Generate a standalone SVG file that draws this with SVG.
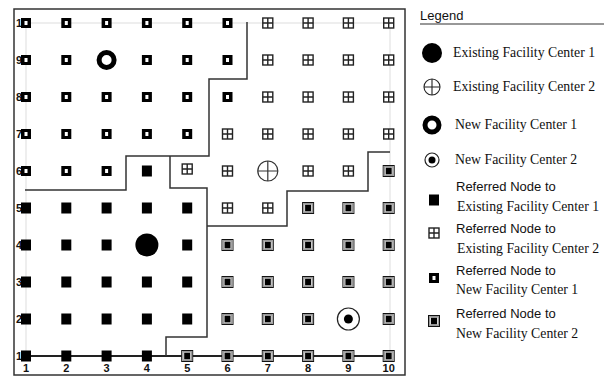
<svg xmlns="http://www.w3.org/2000/svg" xmlns:xlink="http://www.w3.org/1999/xlink" width="616" height="378" viewBox="0 0 616 378">
<style>
.ax{font-family:"Liberation Sans",Arial,sans-serif;font-size:11px;font-weight:bold;fill:#111}
.sans{font-family:"Liberation Sans",Arial,sans-serif;font-size:13px;fill:#111}
.serif{font-family:"Liberation Serif","Times New Roman",serif;font-size:13.8px;fill:#111}
.bnd{fill:none;stroke:#333;stroke-width:1.5}
.grid{stroke:#ddd;stroke-width:1;fill:none}
</style>
<defs>
<g id="s"><rect x="-5" y="-5.5" width="10" height="11" fill="#000"/></g>
<g id="nf1"><rect x="-5" y="-5" width="10" height="10" fill="#000"/><rect x="-1.5" y="-2" width="3" height="4" fill="#fff"/></g>
<g id="ef2"><rect x="-5" y="-5" width="10" height="10" fill="#fff" stroke="#222" stroke-width="1.4"/><path d="M0,-5V5M-5,0H5" stroke="#222" stroke-width="1.4"/></g>
<g id="nf2"><rect x="-5.5" y="-5.5" width="11" height="11" fill="#fff" stroke="#111" stroke-width="1"/><rect x="-4.3" y="-4.3" width="8.6" height="8.6" fill="none" stroke="#999" stroke-width="1.4"/><rect x="-3" y="-3.3" width="6" height="6.6" fill="#000"/></g>
</defs>
<rect x="0" y="0" width="616" height="378" fill="#fff"/>
<rect x="14" y="9" width="391" height="366" fill="none" stroke="#333" stroke-width="1.5"/>
<g id="gridlines">
<path class="grid" d="M26,23H390M26,23V356M390,23V356"/>
</g>
<g id="axis-labels">
<text class="ax" x="16" y="27">10</text>
<text class="ax" x="16" y="64">90</text>
<text class="ax" x="16" y="101">80</text>
<text class="ax" x="16" y="138">70</text>
<text class="ax" x="16" y="175">60</text>
<text class="ax" x="16" y="212">50</text>
<text class="ax" x="16" y="249">40</text>
<text class="ax" x="16" y="286">30</text>
<text class="ax" x="16" y="323">20</text>
<text class="ax" x="16" y="360">10</text>
<g text-anchor="middle">
<text class="ax" x="26" y="372">1</text>
<text class="ax" x="66.3" y="372">2</text>
<text class="ax" x="106.6" y="372">3</text>
<text class="ax" x="146.9" y="372">4</text>
<text class="ax" x="187.2" y="372">5</text>
<text class="ax" x="227.5" y="372">6</text>
<text class="ax" x="267.8" y="372">7</text>
<text class="ax" x="308.1" y="372">8</text>
<text class="ax" x="348.4" y="372">9</text>
<text class="ax" x="388.7" y="372">10</text>
</g>
</g>
<g id="connectors">
<path d="M22,356H392" stroke="#222" stroke-width="2" fill="none"/>
<polyline class="bnd" points="25,190 126,190 126,156 209,156 209,79 247,79 247,22"/>
<polyline class="bnd" points="170,156 170,188 207,188 207,337 166,337 166,356"/>
<polyline class="bnd" points="207,226 287,226 287,191 368,191 368,152 390,152"/>
</g>
<g id="nodes">
<!-- row 10 -->
<use href="#nf1" x="26" y="23"/><use href="#nf1" x="66.3" y="23"/><use href="#nf1" x="106.6" y="23"/><use href="#nf1" x="146.9" y="23"/><use href="#nf1" x="187.2" y="23"/><use href="#nf1" x="227.5" y="23"/>
<use href="#ef2" x="267.8" y="23"/><use href="#ef2" x="308.1" y="23"/><use href="#ef2" x="348.4" y="23"/><use href="#ef2" x="388.7" y="23"/>
<!-- row 9 -->
<use href="#nf1" x="26" y="60"/><use href="#nf1" x="66.3" y="60"/><use href="#nf1" x="146.9" y="60"/><use href="#nf1" x="187.2" y="60"/><use href="#nf1" x="227.5" y="60"/>
<use href="#ef2" x="267.8" y="60"/><use href="#ef2" x="308.1" y="60"/><use href="#ef2" x="348.4" y="60"/><use href="#ef2" x="388.7" y="60"/>
<!-- row 8 -->
<use href="#nf1" x="26" y="97"/><use href="#nf1" x="66.3" y="97"/><use href="#nf1" x="106.6" y="97"/><use href="#nf1" x="146.9" y="97"/><use href="#nf1" x="187.2" y="97"/><use href="#nf1" x="227.5" y="97"/>
<use href="#ef2" x="267.8" y="97"/><use href="#ef2" x="308.1" y="97"/><use href="#ef2" x="348.4" y="97"/><use href="#ef2" x="388.7" y="97"/>
<!-- row 7 -->
<use href="#nf1" x="26" y="134"/><use href="#nf1" x="66.3" y="134"/><use href="#nf1" x="106.6" y="134"/><use href="#nf1" x="146.9" y="134"/><use href="#nf1" x="187.2" y="134"/>
<use href="#ef2" x="227.5" y="134"/><use href="#ef2" x="267.8" y="134"/><use href="#ef2" x="308.1" y="134"/><use href="#ef2" x="348.4" y="134"/><use href="#ef2" x="388.7" y="134"/>
<!-- row 6 -->
<use href="#nf1" x="26" y="171"/><use href="#nf1" x="66.3" y="171"/><use href="#nf1" x="106.6" y="171"/>
<use href="#s" x="146.9" y="171"/>
<use href="#ef2" x="187.2" y="169"/><use href="#ef2" x="227.5" y="171"/><use href="#ef2" x="308.1" y="171"/><use href="#ef2" x="348.4" y="171"/>
<use href="#nf2" x="388.7" y="171"/>
<!-- row 5 -->
<use href="#s" x="26" y="208"/><use href="#s" x="66.3" y="208"/><use href="#s" x="106.6" y="208"/><use href="#s" x="146.9" y="208"/><use href="#s" x="187.2" y="208"/>
<use href="#ef2" x="227.5" y="208"/><use href="#ef2" x="267.8" y="208"/>
<use href="#nf2" x="308.1" y="208"/><use href="#nf2" x="348.4" y="208"/><use href="#nf2" x="388.7" y="208"/>
<!-- row 4 -->
<use href="#s" x="26" y="245"/><use href="#s" x="66.3" y="245"/><use href="#s" x="106.6" y="245"/><use href="#s" x="187.2" y="245"/>
<use href="#nf2" x="227.5" y="245"/><use href="#nf2" x="267.8" y="245"/><use href="#nf2" x="308.1" y="245"/><use href="#nf2" x="348.4" y="245"/><use href="#nf2" x="388.7" y="245"/>
<!-- row 3 -->
<use href="#s" x="26" y="282"/><use href="#s" x="66.3" y="282"/><use href="#s" x="106.6" y="282"/><use href="#s" x="146.9" y="282"/><use href="#s" x="187.2" y="282"/>
<use href="#nf2" x="227.5" y="282"/><use href="#nf2" x="267.8" y="282"/><use href="#nf2" x="308.1" y="282"/><use href="#nf2" x="348.4" y="282"/><use href="#nf2" x="388.7" y="282"/>
<!-- row 2 -->
<use href="#s" x="26" y="319"/><use href="#s" x="66.3" y="319"/><use href="#s" x="106.6" y="319"/><use href="#s" x="146.9" y="319"/><use href="#s" x="187.2" y="319"/>
<use href="#nf2" x="227.5" y="319"/><use href="#nf2" x="267.8" y="319"/><use href="#nf2" x="308.1" y="319"/><use href="#nf2" x="388.7" y="319"/>
<!-- row 1 -->
<use href="#s" x="26" y="356"/><use href="#s" x="66.3" y="356"/><use href="#s" x="106.6" y="356"/><use href="#s" x="146.9" y="356"/>
<use href="#nf2" x="187.2" y="356"/><use href="#nf2" x="227.5" y="356"/><use href="#nf2" x="267.8" y="356"/><use href="#nf2" x="308.1" y="356"/><use href="#nf2" x="348.4" y="356"/><use href="#nf2" x="388.7" y="356"/>
</g>
<g id="new-facility-center-1"><circle cx="106.6" cy="60" r="7.5" fill="#fff" stroke="#000" stroke-width="5"/></g>
<g id="existing-facility-center-2"><circle cx="267.8" cy="171" r="10" fill="#fff" stroke="#333" stroke-width="1.2"/><path d="M257.8,171H277.8M267.8,161V181" stroke="#333" stroke-width="1.2"/></g>
<g id="existing-facility-center-1"><circle cx="146.9" cy="245" r="11.5" fill="#000"/></g>
<g id="new-facility-center-2"><circle cx="348.4" cy="319" r="11" fill="#fff" stroke="#222" stroke-width="1.2"/><circle cx="348.4" cy="319" r="4.5" fill="#000"/></g>
<g id="legend">
<text class="sans" x="420" y="20" font-size="14">Legend</text>
<path d="M420,24H604" stroke="#333" stroke-width="1.2"/>
<circle cx="432" cy="53" r="10" fill="#000"/>
<text class="serif" x="453" y="57">Existing Facility Center 1</text>
<circle cx="432" cy="87" r="8" fill="#fff" stroke="#222" stroke-width="1.1"/><path d="M424,87H440M432,79V95" stroke="#222" stroke-width="1.1"/>
<text class="serif" x="453" y="91">Existing Facility Center 2</text>
<circle cx="432" cy="125" r="7" fill="#fff" stroke="#000" stroke-width="5"/>
<text class="serif" x="455" y="129">New Facility Center 1</text>
<circle cx="432" cy="160" r="7" fill="#fff" stroke="#222" stroke-width="1.2"/><circle cx="432" cy="160" r="3.5" fill="#000"/>
<text class="serif" x="455" y="164">New Facility Center 2</text>
<use href="#s" x="434" y="200"/>
<text class="sans" x="456" y="191">Referred Node to</text>
<text class="serif" x="457" y="211">Existing Facility Center 1</text>
<use href="#ef2" x="434" y="233"/>
<text class="sans" x="456" y="233">Referred Node to</text>
<text class="serif" x="457" y="253">Existing Facility Center 2</text>
<use href="#nf1" x="434" y="278"/>
<text class="sans" x="456" y="275">Referred Node to</text>
<text class="serif" x="456" y="294">New Facility Center 1</text>
<use href="#nf2" x="434" y="321"/>
<text class="sans" x="456" y="318">Referred Node to</text>
<text class="serif" x="456" y="338">New Facility Center 2</text>
</g>
</svg>
